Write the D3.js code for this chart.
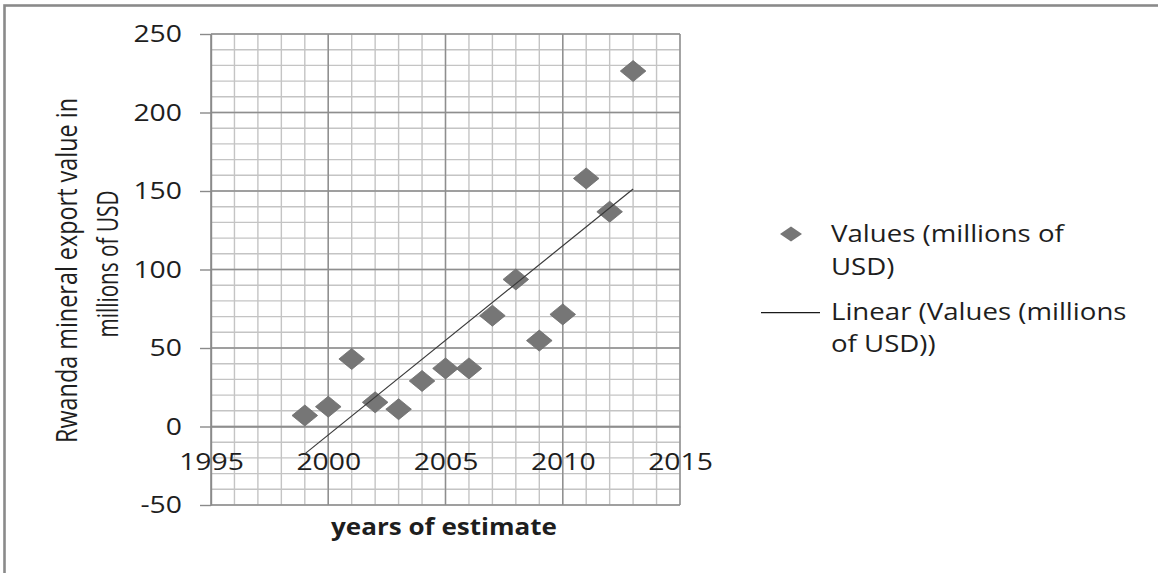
<!DOCTYPE html>
<html>
<head>
<meta charset="utf-8">
<script src="https://cdn.jsdelivr.net/npm/d3@7/dist/d3.min.js"></script>
<style>
  html, body { margin: 0; padding: 0; background: #fff; }
  svg { display: block; }
  text { font-family: "Open Sans", "DejaVu Sans", sans-serif; fill: #1e1e1e; }
</style>
</head>
<body>
<svg id="chart" width="1158" height="573"></svg>
<script>
// Rwanda mineral export values, millions of USD
const years  = [1999, 2000, 2001, 2002, 2003, 2004, 2005, 2006, 2007, 2008, 2009, 2010, 2011, 2012, 2013];
const values = [7, 12.6, 43, 15.4, 11, 29, 37, 37, 70.6, 93.7, 54.7, 71.4, 158, 136.8, 226.4];
const xTicks = [1995, 2000, 2005, 2010, 2015];
const yTicks = [-50, 0, 50, 100, 150, 200, 250];
const seriesName = ["Values (millions of", "USD)"];
const trendName  = ["Linear (Values (millions", "of USD))"];

const svg = d3.select("#chart");

// outer frame
svg.append("rect")
  .attr("x", 4.5).attr("y", 5.5).attr("width", 1300).attr("height", 700)
  .attr("fill", "none").attr("stroke", "#8a8a8a").attr("stroke-width", 2.6);

const x = d3.scaleLinear().domain([1995, 2015]).range([211, 680]);
const y = d3.scaleLinear().domain([-50, 250]).range([505, 34]);

// widen glyphs horizontally by factor k
function widen(sel, k) {
  sel.each(function () {
    const w = this.getComputedTextLength();
    d3.select(this).attr("textLength", w * k).attr("lengthAdjust", "spacingAndGlyphs");
  });
}

// gridlines: minor first, then major
const grid = svg.append("g");
grid.selectAll(".vminor").data(d3.range(1995, 2016, 1)).join("line")
  .attr("x1", d => x(d)).attr("x2", d => x(d))
  .attr("y1", y(250)).attr("y2", y(-50))
  .attr("stroke", "#c4c4c4").attr("stroke-width", 1.4);
grid.selectAll(".hminor").data(d3.range(-50, 251, 10)).join("line")
  .attr("x1", x(1995)).attr("x2", x(2015))
  .attr("y1", d => y(d)).attr("y2", d => y(d))
  .attr("stroke", "#c4c4c4").attr("stroke-width", 1.4);
grid.selectAll(".vmajor").data(xTicks).join("line")
  .attr("x1", d => x(d)).attr("x2", d => x(d))
  .attr("y1", y(250)).attr("y2", y(-50))
  .attr("stroke", "#8e8e8e").attr("stroke-width", 1.4);
grid.selectAll(".hmajor").data(yTicks).join("line")
  .attr("x1", x(1995)).attr("x2", x(2015))
  .attr("y1", d => y(d)).attr("y2", d => y(d))
  .attr("stroke", "#8e8e8e").attr("stroke-width", 1.4);

// y axis
const yAxis = svg.append("g").attr("transform", `translate(${x(1995)},0)`)
  .call(d3.axisLeft(y).tickValues(yTicks).tickSize(11).tickPadding(18).tickSizeOuter(0)
    .tickFormat(d => String(d)));
yAxis.select(".domain").attr("stroke", "#8a8a8a").attr("stroke-width", 1.4);
yAxis.selectAll(".tick line").attr("stroke", "#8a8a8a").attr("stroke-width", 1.4);
yAxis.selectAll("text").attr("font-size", 24).attr("font-family", "Open Sans").attr("fill", "#1e1e1e");
widen(yAxis.selectAll("text"), 1.18);

// x axis crossing at zero
const xAxis = svg.append("g").attr("transform", `translate(0,${y(0)})`)
  .call(d3.axisBottom(x).tickValues(xTicks).tickSize(0).tickPadding(26.5).tickSizeOuter(0)
    .tickFormat(d => String(d)));
xAxis.select(".domain").attr("stroke", "#8e8e8e").attr("stroke-width", 1.4);
xAxis.selectAll("text").attr("font-size", 24).attr("font-family", "Open Sans").attr("fill", "#1e1e1e");
widen(xAxis.selectAll("text"), 1.18);

// linear trend (least squares)
const mx = d3.mean(years), my = d3.mean(values);
const slope = d3.sum(years, (t, i) => (t - mx) * (values[i] - my)) / d3.sum(years, t => (t - mx) * (t - mx));
const icpt = my - slope * mx;
const ends = d3.extent(years);

// diamonds
const diamond = (w, h) => `M0,${-h}L${w},0L0,${h}L${-w},0Z`;
svg.append("g").selectAll("path").data(years).join("path")
  .attr("transform", (t, i) => `translate(${x(t)},${y(values[i])})`)
  .attr("d", diamond(12.8, 10.5))
  .attr("fill", "#767676").attr("stroke", "#6c6c6c").attr("stroke-width", 0.8);

svg.append("line")
  .attr("x1", x(ends[0])).attr("y1", y(icpt + slope * ends[0]))
  .attr("x2", x(ends[1])).attr("y2", y(icpt + slope * ends[1]))
  .attr("stroke", "#3a3a3a").attr("stroke-width", 1.2);

// axis titles
svg.append("text")
  .attr("x", 444).attr("y", 535).attr("text-anchor", "middle")
  .attr("font-size", 23).attr("font-weight", "bold")
  .attr("textLength", 226).attr("lengthAdjust", "spacingAndGlyphs")
  .text("years of estimate");

const yTitle = svg.append("g");
yTitle.append("text")
  .attr("transform", "translate(77,270.5) rotate(-90)")
  .attr("text-anchor", "middle").attr("font-size", 30)
  .attr("textLength", 345).attr("lengthAdjust", "spacingAndGlyphs")
  .text("Rwanda mineral export value in");
yTitle.append("text")
  .attr("transform", "translate(118,264) rotate(-90)")
  .attr("text-anchor", "middle").attr("font-size", 30)
  .attr("textLength", 147).attr("lengthAdjust", "spacingAndGlyphs")
  .text("millions of USD");

// legend
const legend = svg.append("g");
legend.append("path").attr("transform", "translate(791,234)")
  .attr("d", diamond(11, 7.5)).attr("fill", "#767676");
legend.append("line").attr("x1", 761).attr("x2", 820).attr("y1", 312.7).attr("y2", 312.7)
  .attr("stroke", "#1a1a1a").attr("stroke-width", 1.3);
const legendLines = [
  { t: seriesName[0], y: 241.7 },
  { t: seriesName[1], y: 275 },
  { t: trendName[0], y: 320 },
  { t: trendName[1], y: 351.7 }
];
const lt = legend.selectAll("text").data(legendLines).join("text")
  .attr("x", 831).attr("y", d => d.y).attr("font-size", 23.4)
  .text(d => d.t);
widen(lt, 1.18);
</script>
</body>
</html>
